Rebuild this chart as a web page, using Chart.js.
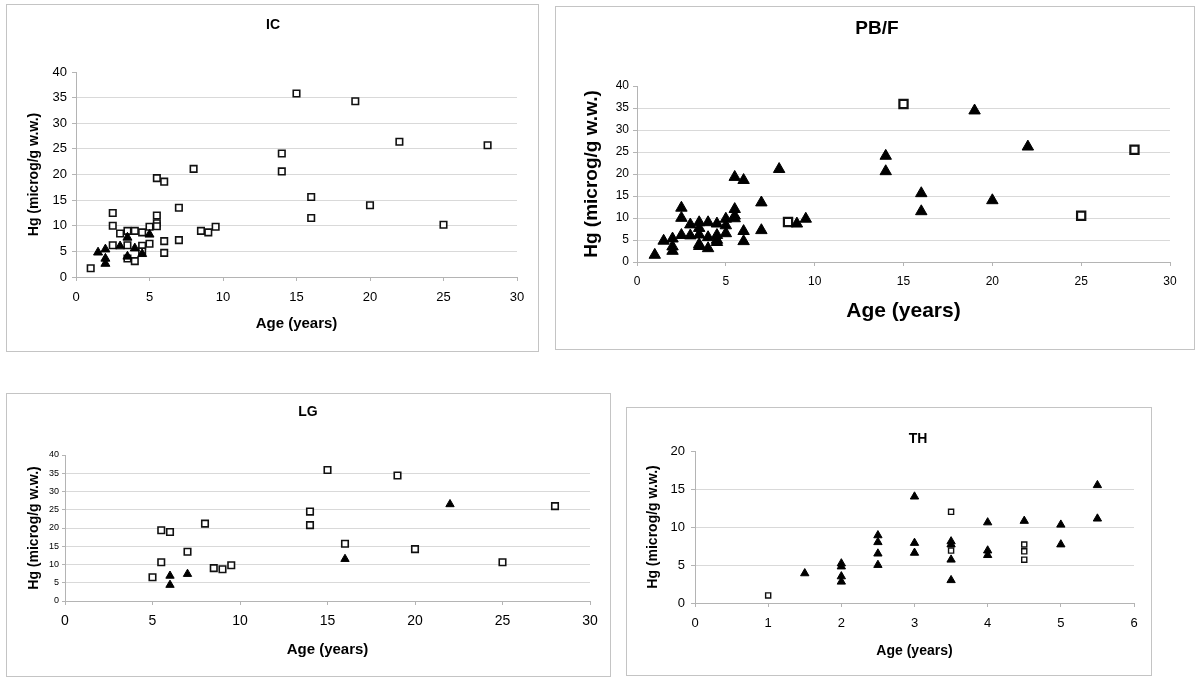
<!DOCTYPE html>
<html><head><meta charset="utf-8">
<script src="https://cdn.jsdelivr.net/npm/chart.js@4"></script>
<style>
html,body{margin:0;padding:0;background:#fff;width:1200px;height:686px;overflow:hidden;position:relative;}
.frame{position:absolute;box-sizing:border-box;border:1px solid #c4c4c4;}
canvas{position:absolute;}
.ttl{position:absolute;font-family:'Liberation Sans',Arial,sans-serif;font-weight:bold;transform:translate(-50%,-50%);white-space:nowrap;color:#000;}
</style></head><body>
<script>
// ---- DATA (x = age in years, y = Hg microg/g w.w.) ----
const icSquares = [[1,1.7],[2.5,12.5],[2.5,10.0],[2.5,6.2],[3,8.5],[3.5,9.0],[3.5,6.2],[3.5,3.6],[4,9.0],[4,3.1],[4.5,8.7],[4.5,6.1],[4.5,5.0],[5,9.8],[5,6.5],[5.5,19.3],[5.5,12.0],[5.5,10.5],[5.5,9.9],[6,18.6],[6,7.0],[6,4.7],[7,13.5],[7,7.2],[8,21.1],[8.5,9.0],[9,8.7],[9.5,9.8],[14,24.1],[14,20.6],[15,35.8],[16,15.6],[16,11.5],[19,34.3],[20,14.0],[22,26.4],[25,10.2],[28,25.7]];
const icTriangles = [[1.5,4.8],[2,5.4],[2,3.6],[2,2.6],[3,6.0],[3.5,7.7],[3.5,4.0],[4,5.6],[4.5,4.5],[5,8.3]];

const pbfSquares = [[8.5,9.1],[15,35.9],[25,10.5],[28,25.5]];
const pbfTriangles = [[1,1.6],[1.5,4.8],[2,5.3],[2,3.5],[2,2.5],[2.5,12.3],[2.5,10.0],[2.5,6.1],[3,8.5],[3,6.0],[3.5,9.0],[3.5,7.7],[3.5,6.2],[3.5,4.0],[3.5,3.6],[4,9.0],[4,5.6],[4,3.1],[4.5,8.7],[4.5,6.1],[4.5,5.0],[4.5,4.5],[5,9.8],[5,8.3],[5,6.5],[5.5,19.3],[5.5,12.0],[5.5,10.5],[5.5,9.9],[6,18.6],[6,7.0],[6,4.7],[7,13.5],[7,7.2],[8,21.1],[9,8.7],[9.5,9.8],[14,24.1],[14,20.6],[16,15.6],[16,11.5],[19,34.4],[20,14.0],[22,26.2]];

const lgSquares = [[5,6.5],[5.5,10.6],[5.5,19.4],[6,18.9],[7,13.5],[8,21.2],[8.5,9.0],[9,8.7],[9.5,9.8],[14,24.5],[14,20.8],[15,35.9],[16,15.7],[19,34.4],[20,14.2],[25,10.6],[28,26.0]];
const lgTriangles = [[6,6.9],[6,4.4],[7,7.4],[16,11.5],[22,26.5]];

const thSquares = [[1,1.0],[3.5,12.0],[3.5,6.9],[4.5,7.7],[4.5,6.8],[4.5,5.7]];
const thTriangles = [[1.5,3.9],[2,5.2],[2,4.8],[2,3.5],[2,2.8],[2.5,8.9],[2.5,8.0],[2.5,6.5],[2.5,5.0],[3,14.0],[3,7.9],[3,6.6],[3.5,8.1],[3.5,7.7],[3.5,5.7],[3.5,3.0],[4,10.6],[4,6.9],[4,6.3],[4.5,10.8],[5,10.3],[5,7.7],[5.5,15.5],[5.5,11.1]];

const panelTitles = ['IC','PB/F','LG','TH'];
const xAxisTitle = 'Age (years)';
const yAxisTitle = 'Hg (microg/g w.w.)';
const xMaxes = [30,30,30,6];
const xSteps = [5,5,5,1];
const yMaxes = [40,40,40,20];
const ySteps = [5,5,5,5];

// ---- LAYOUT ----
const FAM = "'Liberation Sans', Arial, sans-serif";
const layouts = [
  {L:6,T:4,W:533,H:348,cL:70,cR:511,cT:68,cB:273,xt:13,yt:13,xtp:9,ytp:5,ytl:4,xTs:15,yTs:14,xTpb:19,yTpt:19.6,tx:273,ty:24,ts:14,sqR:4.6,sqB:1.6,trR:5.2},
  {L:555,T:6,W:640,H:344,cL:82,cR:615,cT:80,cB:256,xt:12,yt:12,xtp:8,ytp:4,ytl:4,xTs:21,yTs:19,xTpb:26.4,yTpt:25.6,tx:877,ty:28,ts:19,sqR:5.8,sqB:2.2,trR:6.6},
  {L:6,T:393,W:605,H:284,cL:59,cR:584,cT:62,cB:208,xt:14,yt:9,xtp:8,ytp:3,ytl:3,xTs:15,yTs:14,xTpb:18,yTpt:20,tx:308,ty:411,ts:14,sqR:4.6,sqB:1.6,trR:4.8},
  {L:626,T:407,W:526,H:269,cL:69,cR:508,cT:44,cB:196,xt:13,yt:13,xtp:9,ytp:6,ytl:4,xTs:14,yTs:14,xTpb:16.6,yTpt:18.9,tx:918,ty:438,ts:14,sqR:3.6,sqB:1.4,trR:4.8}
];
const series = [[icSquares,icTriangles],[pbfSquares,pbfTriangles],[lgSquares,lgTriangles],[thSquares,thTriangles]];

const AXIS = '#b4b4b4', GRID = '#d9d9d9';
const toXY = a => a.map(([x,y]) => ({x, y}));

layouts.forEach((p, i) => {
  const fr = document.createElement('div');
  fr.className = 'frame';
  Object.assign(fr.style, {left:p.L+'px', top:p.T+'px', width:p.W+'px', height:p.H+'px'});
  document.body.appendChild(fr);
  const cv = document.createElement('canvas');
  cv.width = p.W; cv.height = p.H;
  Object.assign(cv.style, {left:p.L+'px', top:p.T+'px', width:p.W+'px', height:p.H+'px'});
  document.body.appendChild(cv);
  const t = document.createElement('div');
  t.className = 'ttl';
  t.textContent = panelTitles[i];
  Object.assign(t.style, {left:p.tx+'px', top:p.ty+'px', fontSize:p.ts+'px'});
  document.body.appendChild(t);

  const yMax = yMaxes[i];
  new Chart(cv.getContext('2d'), {
    type: 'scatter',
    data: {datasets: [
      {label:'b', data: toXY(series[i][1]), pointStyle:'triangle', radius:p.trR, hoverRadius:p.trR,
       backgroundColor:'#000', borderColor:'#000', borderWidth:1, order:0},
      {label:'a', data: toXY(series[i][0]), pointStyle:'rect', radius:p.sqR, hoverRadius:p.sqR,
       backgroundColor:'#fff', borderColor:'#111', borderWidth:p.sqB, order:1}
    ]},
    options: {
      responsive:false, animation:false, devicePixelRatio:1, events:[],
      layout:{padding:{left:0, top:p.cT, right:p.W - p.cR, bottom:0}},
      plugins:{legend:{display:false}, tooltip:{enabled:false}, title:{display:false}},
      scales:{
        x:{type:'linear', position:'bottom', min:0, max:xMaxes[i],
          ticks:{stepSize:xSteps[i], color:'#000', font:{family:FAM, size:p.xt}, padding:p.xtp, maxRotation:0, autoSkip:false},
          grid:{display:true, drawOnChartArea:false, drawTicks:true, tickLength:4, tickColor:AXIS, color:AXIS},
          border:{display:true, color:AXIS, width:1},
          title:{display:true, text:xAxisTitle, color:'#000', font:{family:FAM, size:p.xTs, weight:'bold'}, padding:{top:0, bottom:p.xTpb}},
          afterFit(s){ s.height = p.H - p.cB; }
        },
        y:{type:'linear', position:'left', min:0, max:yMax,
          ticks:{stepSize:ySteps[i], color:'#000', font:{family:FAM, size:p.yt}, padding:p.ytp, autoSkip:false},
          grid:{display:true, drawOnChartArea:true, drawTicks:true, tickLength:p.ytl, tickColor:AXIS,
                color:(c) => (c.tick && c.tick.value === yMax) ? 'rgba(0,0,0,0)' : GRID},
          border:{display:true, color:AXIS, width:1},
          title:{display:true, text:yAxisTitle, color:'#000', font:{family:FAM, size:p.yTs, weight:'bold'}, padding:{top:p.yTpt, bottom:0}},
          afterFit(s){ s.width = p.cL; }
        }
      }
    }
  });
});
</script>
</body></html>
